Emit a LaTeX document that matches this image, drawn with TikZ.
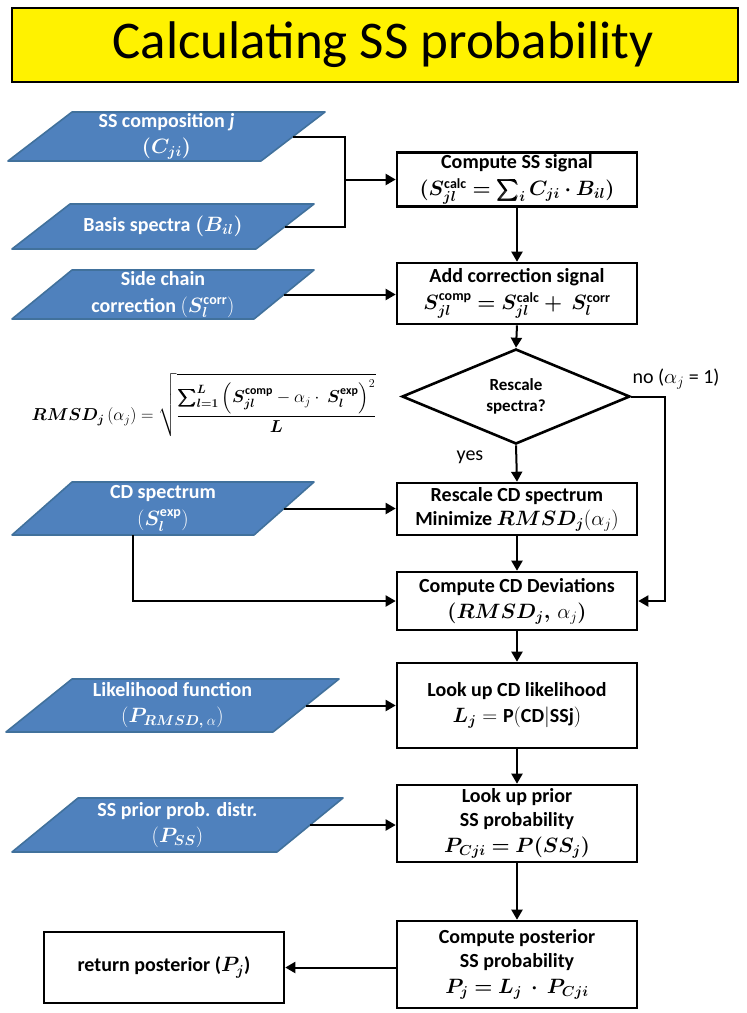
\documentclass[tikz,border=0pt]{standalone}
\usepackage{amsmath}
\usepackage{bm}
\usepackage{fontspec}
\setmainfont{Carlito}
\usetikzlibrary{shapes.geometric,arrows.meta}
\definecolor{pblue}{HTML}{4F81BD}
\definecolor{pborder}{HTML}{41719C}
\newcommand{\parabox}[7]{%
  \path[fill=pblue,draw=pborder,line width=1.6pt,line join=round] (#2,#4) -- (#3,#4) -- ({#3-#6},#5) -- ({#2-#6},#5) -- cycle;
  \node[ptext] (#1) at ({(#2+#3-#6)/2},{(#4+#5)/2}) {#7};
  \coordinate (#1-r) at ({#3-#6/2},{(#4+#5)/2});
}
\begin{document}
\begin{tikzpicture}[x=1pt,y=-1pt,
  box/.style={draw=black,line width=2.6pt,fill=white,minimum width=240pt,align=center,inner sep=2pt,
              font=\fontsize{20}{24}\selectfont\bfseries},
  arr/.style={line width=2pt,-{Triangle[length=10pt,width=11pt]}},
  ln/.style={line width=2pt},
  ptext/.style={text=white,align=center,font=\fontsize{20}{24}\selectfont\bfseries},
  lbl/.style={font=\fontsize{20}{24}\selectfont},
  decision/.style={diamond,draw=black,line width=2.6pt,fill=white,inner sep=0pt,minimum width=228pt,minimum height=79pt,align=center,font=\fontsize{17}{21}\selectfont\bfseries}
]
\useasboundingbox (0,0) rectangle (747,1013);

% title
\node[draw=black,fill=yellow,line width=1.5pt,minimum width=726pt,minimum height=74pt,inner sep=0pt] (title) at (375,45) {};
\node[font=\fontsize{53}{60}\selectfont,inner sep=0pt] (ttext) at (383,45) {Calculating SS probability};

% input parallelograms
\parabox{ssc}{72}{325}{112}{161}{64}{SS composition \textit{j}\\[2pt]$\bm{(C_{ji})}$}
\parabox{bas}{70}{314}{204}{249}{58}{Basis spectra $\bm{(B_{il})}$}
\parabox{sid}{72}{314}{270}{319}{60}{Side chain\\[3pt]correction $(\bm{S_l^{\mathrm{corr}}})$}
\parabox{cds}{72}{314}{482}{535}{60}{CD spectrum\\[3pt]$(\bm{S_l^{\mathrm{exp}}})$}
\parabox{lik}{72}{339}{679}{732}{66}{Likelihood function\\[2pt]$(\bm{P_{RMSD,\,}}{}_{\alpha})$}
\parabox{pri}{78}{343}{798}{852}{66}{SS prior prob. distr.\\[2pt]$(\bm{P_{SS}})$}

% process boxes
\node[box,minimum height=53pt] (css) at (517,179.5) {Compute SS signal\\[3pt]$\bm{(S_{jl}^{\mathrm{calc}} = \sum\nolimits_i C_{ji}\cdot B_{il})}$};
\node[box,minimum height=61pt] (add) at (517,293.5) {Add correction signal\\[3pt]$\bm{S_{jl}^{\mathrm{comp}} = S_{jl}^{\mathrm{calc}} +\ S_l^{\mathrm{corr}}}$};
\node[decision] (dec) at (516,396.5) {Rescale\\spectra?};
\node[box,minimum height=52pt] (res) at (517,509) {Rescale CD spectrum\\Minimize $\bm{RMSD_j}(\alpha_j)$};
\node[box,minimum height=58pt] (dev) at (517,601) {Compute CD Deviations\\[2pt]$\bm{(RMSD_j,}\,\alpha_j\bm{)}$};
\node[box,minimum height=85pt] (lku) at (517,705.5) {Look up CD likelihood\\[2pt]$\bm{L_j} = \mathbf{P(CD|SSj)}$};
\node[box,minimum height=77pt] (lkp) at (517,823.5) {Look up prior\\SS probability\\[2pt]$\bm{P_{Cji} = P(SS_j)}$};
\node[box,minimum height=87pt] (post) at (517,964.5) {Compute posterior\\SS probability\\[2pt]$\bm{P_j = L_j\ \cdot\ P_{Cji}}$};
\node[box,minimum height=71pt] (ret) at (164,967.5) {return posterior ($\bm{P_j}$)};

% formula
\node[font=\fontsize{17}{20}\selectfont] (rmsd) at (204,405)
  {$\bm{RMSD_j}\,(\alpha_j) = \sqrt{\dfrac{\bm{\sum_{l=1}^{L}}\left(\bm{S_{jl}^{\mathrm{comp}}} - \alpha_j\cdot\ \bm{S_l^{\mathrm{exp}}}\right)^{2}}{\bm{L}}}$};

% labels
\node[lbl] (no) at (676,379) {no ($\alpha_j$ = 1)};
\node[lbl] (yes) at (470,457) {yes};

% connectors
\coordinate (jn) at (345,179.5);
\draw[ln] (ssc-r) -| (jn);
\draw[ln] (bas-r) -| (jn);
\draw[arr] (jn) -- (css.west);
\draw[arr] (css.south) -- (add.north);
\draw[arr] (sid-r) -- (sid-r -| add.west);
\draw[arr] (add.south) -- (dec.north);
\draw[arr] (dec.south) -- (res.north);
\coordinate (noc) at (665,396.5);
\draw[arr] (dec.east) -- (noc) |- (dev.east);
\draw[arr] (cds-r) -- (cds-r -| res.west);
\coordinate (cdb) at (133,535);
\draw[arr] (cdb) |- (dev.west);
\draw[arr] (res.south) -- (dev.north);
\draw[arr] (dev.south) -- (lku.north);
\draw[arr] (lik-r) -- (lik-r -| lku.west);
\draw[arr] (lku.south) -- (lkp.north);
\draw[arr] (pri-r) -- (pri-r -| lkp.west);
\draw[arr] (lkp.south) -- (post.north);
\draw[arr] (post.west |- ret.east) -- (ret.east);
\end{tikzpicture}
\end{document}
